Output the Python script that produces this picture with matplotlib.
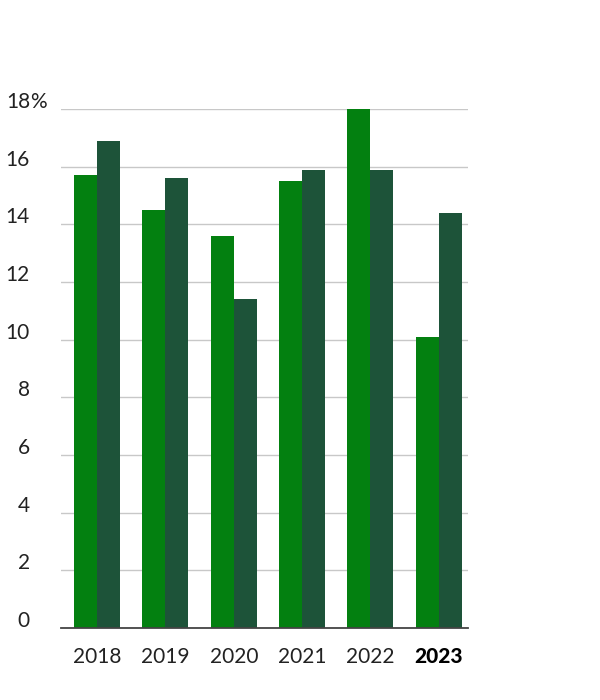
import matplotlib
matplotlib.use("Agg")
import matplotlib.pyplot as plt
import numpy as np
from matplotlib.transforms import offset_copy

years = ["2018", "2019", "2020", "2021", "2022", "2023"]
series_a = [15.7, 14.5, 13.6, 15.5, 18.0, 10.1]
series_b = [16.9, 15.6, 11.4, 15.9, 15.9, 14.4]
yticks = [0, 2, 4, 6, 8, 10, 12, 14, 16, 18]

color_a = "#038010"
color_b = "#1d5339"

plt.rcParams['font.family'] = ['Lato', 'DejaVu Sans']

W, H = 600, 700
fig = plt.figure(figsize=(6, 7), dpi=100)
ax_left, ax_right = 61 / W, 468 / W
ax_bottom, ax_top = (H - 628) / H, (H - 109) / H
ax = fig.add_axes([ax_left, ax_bottom, ax_right - ax_left, ax_top - ax_bottom])

x = np.arange(len(years))
bw = 0.337
ax.bar(x - bw / 2, series_a, width=bw, color=color_a, zorder=3, linewidth=0)
ax.bar(x + bw / 2, series_b, width=bw, color=color_b, zorder=3, linewidth=0)

ax.set_xlim(-0.53, 5.43)
ax.set_ylim(0, 18)
for sp in ["top", "right", "left"]:
    ax.spines[sp].set_visible(False)
ax.spines["bottom"].set_color("#444444")
ax.spines["bottom"].set_linewidth(1.3)
ax.spines["bottom"].set_zorder(4)

ax.set_yticks(yticks)
ax.yaxis.grid(True, color="#c8c8c8", linewidth=1, zorder=0)
ax.set_axisbelow(True)
ax.tick_params(axis="y", length=0, labelleft=False)
ax.tick_params(axis="x", length=0, pad=14, labelsize=15, labelcolor="#222222")
ax.set_xticks(x)
ax.set_xticklabels(years)
lbls = ax.get_xticklabels()
lbls[-1].set_fontweight("black")
lbls[-1].set_color("#000000")

# y tick labels: right-aligned at x~30px, raised slightly above gridlines
trans = ax.get_yaxis_transform()
for v in yticks:
    t = offset_copy(trans, fig=fig, x=-(61 - 30) * 72 / 100, y=7 * 72 / 100, units="points")
    ax.text(0, v, str(v), transform=t, ha="right", va="center",
            fontsize=15, color="#222222")
t = offset_copy(trans, fig=fig, x=-(61 - 30) * 72 / 100, y=7 * 72 / 100, units="points")
ax.text(0, 18, "%", transform=t, ha="left", va="center", fontsize=15, color="#222222")

fig.savefig("out.png", dpi=100)
